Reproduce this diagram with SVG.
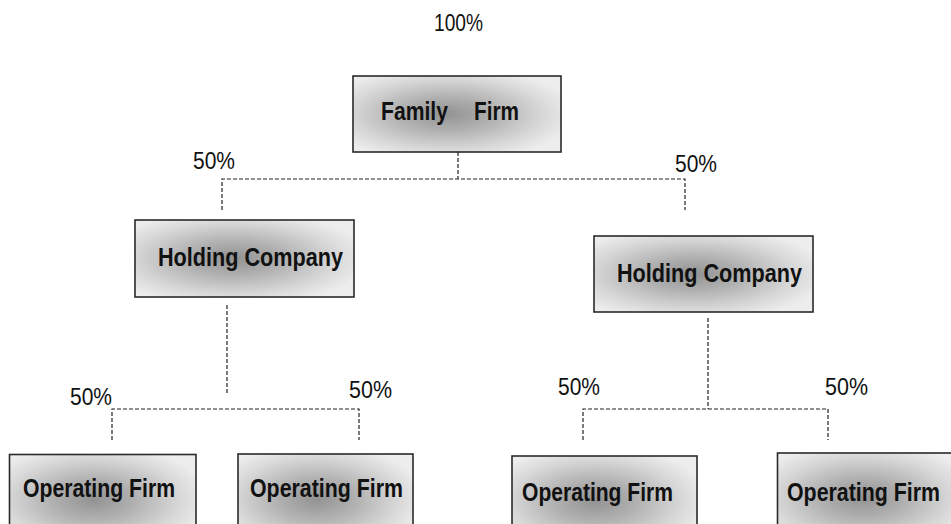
<svg xmlns="http://www.w3.org/2000/svg" width="951" height="524" viewBox="0 0 951 524">
<defs>
<radialGradient id="g" cx="0.45" cy="0.5" r="0.62">
<stop offset="0" stop-color="#929292"/>
<stop offset="0.35" stop-color="#b0b0b0"/>
<stop offset="0.75" stop-color="#d8d8d8"/>
<stop offset="1" stop-color="#ededed"/>
</radialGradient>
</defs>
<style>
.box{fill:url(#g);stroke:#2a2a2a;stroke-width:1.6}
.lbl{font-family:"Liberation Sans",Arial,sans-serif;font-weight:bold;font-size:25px;fill:#111}
.pct{font-family:"Liberation Sans",Arial,sans-serif;font-size:23px;fill:#111}
.dash{fill:none;stroke:#222;stroke-width:1.2;stroke-dasharray:4 2}
</style>
<rect width="951" height="524" fill="#fff"/>
<g id="connectors">
<path class="dash" d="M458 152V179M222 210V179H685V210"/>
<path class="dash" d="M227 305V395M112 440V409H359V440"/>
<path class="dash" d="M708 318V409M583 440V409H828V440"/>
</g>
<g id="labels">
<text class="pct" x="434" y="31" font-size="20" textLength="49" lengthAdjust="spacingAndGlyphs">100%</text>
<text class="pct" x="193" y="169" textLength="42" lengthAdjust="spacingAndGlyphs">50%</text>
<text class="pct" x="675" y="172" textLength="42" lengthAdjust="spacingAndGlyphs">50%</text>
<text class="pct" x="70" y="405" textLength="42" lengthAdjust="spacingAndGlyphs">50%</text>
<text class="pct" x="349" y="398" textLength="43" lengthAdjust="spacingAndGlyphs">50%</text>
<text class="pct" x="558" y="395" textLength="42" lengthAdjust="spacingAndGlyphs">50%</text>
<text class="pct" x="825" y="395" textLength="43" lengthAdjust="spacingAndGlyphs">50%</text>
</g>
<g id="family-firm">
<rect class="box" x="353" y="76" width="208" height="76"/>
<text class="lbl" y="120" font-size="24"><tspan x="381" textLength="67" lengthAdjust="spacingAndGlyphs">Family</tspan><tspan x="474" textLength="45" lengthAdjust="spacingAndGlyphs">Firm</tspan></text>
</g>
<g id="holding-left">
<rect class="box" x="135" y="220" width="219" height="77"/>
<text class="lbl" x="158" y="266" textLength="185" lengthAdjust="spacingAndGlyphs">Holding Company</text>
</g>
<g id="holding-right">
<rect class="box" x="594" y="236" width="219" height="76"/>
<text class="lbl" x="617" y="282" textLength="185" lengthAdjust="spacingAndGlyphs">Holding Company</text>
</g>
<g id="operating-1">
<rect class="box" x="9.5" y="454.5" width="186.5" height="90"/>
<text class="lbl" x="23" y="497" textLength="152" lengthAdjust="spacingAndGlyphs">Operating Firm</text>
</g>
<g id="operating-2">
<rect class="box" x="238" y="454" width="175" height="90"/>
<text class="lbl" x="250" y="497" textLength="153" lengthAdjust="spacingAndGlyphs">Operating Firm</text>
</g>
<g id="operating-3">
<rect class="box" x="512" y="456" width="185" height="90"/>
<text class="lbl" x="522" y="501" textLength="151" lengthAdjust="spacingAndGlyphs">Operating Firm</text>
</g>
<g id="operating-4">
<rect class="box" x="777.5" y="453" width="190" height="90"/>
<text class="lbl" x="787" y="501" textLength="153" lengthAdjust="spacingAndGlyphs">Operating Firm</text>
</g>
</svg>
